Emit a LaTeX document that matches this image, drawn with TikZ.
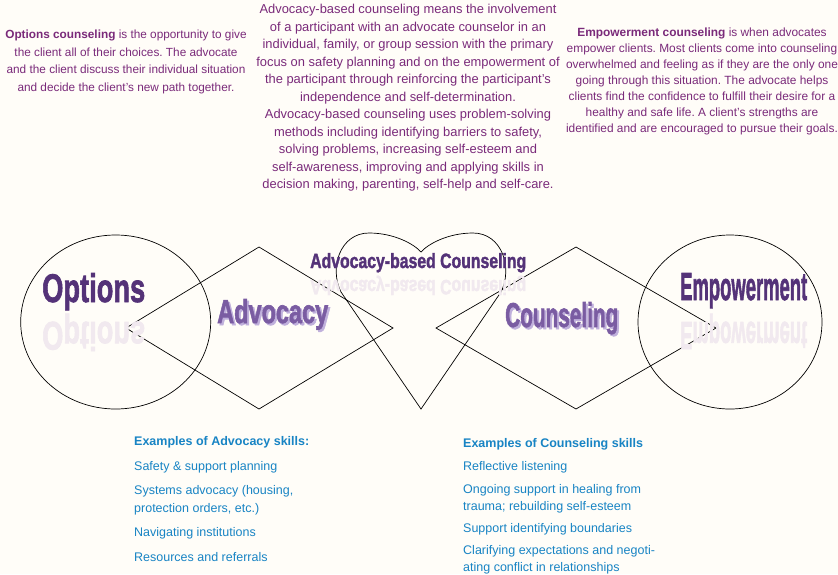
\documentclass[tikz,border=0pt]{standalone}
\usepackage{fontspec}
\setmainfont{Liberation Sans}
\newfontfamily\titlefont[BoldFeatures={FakeBold=2}]{Liberation Sans}
\usetikzlibrary{positioning, calc}
\frenchspacing

\definecolor{bgpaper}{RGB}{255,253,248}
\definecolor{textpurple}{RGB}{122,42,122}
\definecolor{titlepurple}{RGB}{84,50,120}
\definecolor{wordpurple}{RGB}{122,92,162}
\definecolor{wordshadow}{RGB}{192,176,220}
\definecolor{mirror}{RGB}{241,233,239}
\definecolor{skillblue}{RGB}{24,132,196}

\newcommand{\bigword}[3]{\resizebox{#1pt}{#2pt}{\titlefont\bfseries #3}}
\newcommand{\flipword}[3]{\scalebox{1}[-1]{\bigword{#1}{#2}{#3}}}

\begin{document}
\begin{tikzpicture}[x=1pt, y=-1pt,
    para/.style={align=center, inner sep=0pt, text=textpurple, font=\fontsize{12.9}{17.5}\selectfont},
    skill/.style={align=left, anchor=west, inner sep=0pt, text=skillblue, font=\fontsize{12.5}{17.5}\selectfont},
    word/.style={anchor=base west, inner sep=0pt},
    outline/.style={draw=black, line width=0.7pt}]
  \useasboundingbox[fill=bgpaper] (0,0) rectangle (838,574);

  % descriptions
  \node[para, font=\fontsize{11.8}{17.5}\selectfont] (optionstext) at (126,62) {\textbf{Options counseling} is the opportunity to give\\
    the client all of their choices. The advocate\\
    and the client discuss their individual situation\\
    and decide the client's new path together.};
  \node[para] (basedtext) at (408,98) {Advocacy-based counseling means the involvement\\
    of a participant with an advocate counselor in an\\
    individual, family, or group session with the primary\\
    focus on safety planning and on the empowerment of\\
    the participant through reinforcing the participant's\\
    independence and self-determination.\\
    Advocacy-based counseling uses problem-solving\\
    methods including identifying barriers to safety,\\
    solving problems, increasing self-esteem and\\
    self-awareness, improving and applying skills in\\
    decision making, parenting, self-help and self-care.};
  \node[para, font=\fontsize{11.9}{16}\selectfont] (empowertext) at (702,81) {\textbf{Empowerment counseling} is when advocates\\
    empower clients. Most clients come into counseling\\
    overwhelmed and feeling as if they are the only one\\
    going through this situation. The advocate helps\\
    clients find the confidence to fulfill their desire for a\\
    healthy and safe life. A client's strengths are\\
    identified and are encouraged to pursue their goals.};

  % shapes
  \draw[outline] (115.7,322) ellipse [x radius=95, y radius=87];
  \draw[outline] (730,322) ellipse [x radius=92, y radius=87];
  \draw[outline] (126,328) -- (259,247) -- (393,328) -- (259,409) -- cycle;
  \draw[outline] (436,328) -- (576,247) -- (716,328) -- (576,409) -- cycle;
  \draw[outline] (421,409) -- (341,292) .. controls (329,268) and (340,233) .. (369,233)
    .. controls (394,233) and (414,244) .. (421,252)
    .. controls (428,244) and (448,233) .. (473,233)
    .. controls (502,233) and (513,268) .. (501,292) -- cycle;

  % titles
  \node[word, text=mirror] (optionsflip) at (42,322) {\flipword{103}{29}{Options}};
  \node[word, text=titlepurple] (options) at (42,302) {\bigword{103}{29}{Options}};
  \node[word, text=mirror] (empowerflip) at (680,322) {\flipword{127}{27}{Empowerment}};
  \node[word, text=titlepurple] (empower) at (680,300) {\bigword{127}{27}{Empowerment}};
  \node[word, text=mirror] (basedflip) at (310,280) {\flipword{216}{15}{Advocacy-based Counseling}};
  \node[word, text=titlepurple] (based) at (310,268) {\bigword{216}{15}{Advocacy-based Counseling}};
  \node[word, text=wordshadow] (advocacyshadow) at (219,325) {\bigword{111}{24}{Advocacy}};
  \node[word, text=wordpurple] (advocacy) at (217,323) {\bigword{111}{24}{Advocacy}};
  \node[word, text=wordshadow] (counselshadow) at (507,329) {\bigword{113}{25}{Counseling}};
  \node[word, text=wordpurple] (counsel) at (505,327) {\bigword{113}{25}{Counseling}};

  % skill lists
  \node[skill] (advhead) at (134,442) {\textbf{Examples of Advocacy skills:}};
  \foreach \ypos/\entry [count=\i] in {467/{Safety \& support planning},
      500.5/{Systems advocacy (housing,\\protection orders, etc.)},
      533/{Navigating institutions}, 557/{Resources and referrals}}
    \node[skill] (advskill\i) at (134,\ypos) {\entry};
  \node[skill] (counhead) at (463,444) {\textbf{Examples of Counseling skills}};
  \foreach \ypos/\entry [count=\i] in {467/{Reflective listening},
      499/{Ongoing support in healing from\\trauma; rebuilding self-esteem},
      529/{Support identifying boundaries},
      560/{Clarifying expectations and negoti-\\ating conflict in relationships}}
    \node[skill] (counskill\i) at (463,\ypos) {\entry};
\end{tikzpicture}
\end{document}
